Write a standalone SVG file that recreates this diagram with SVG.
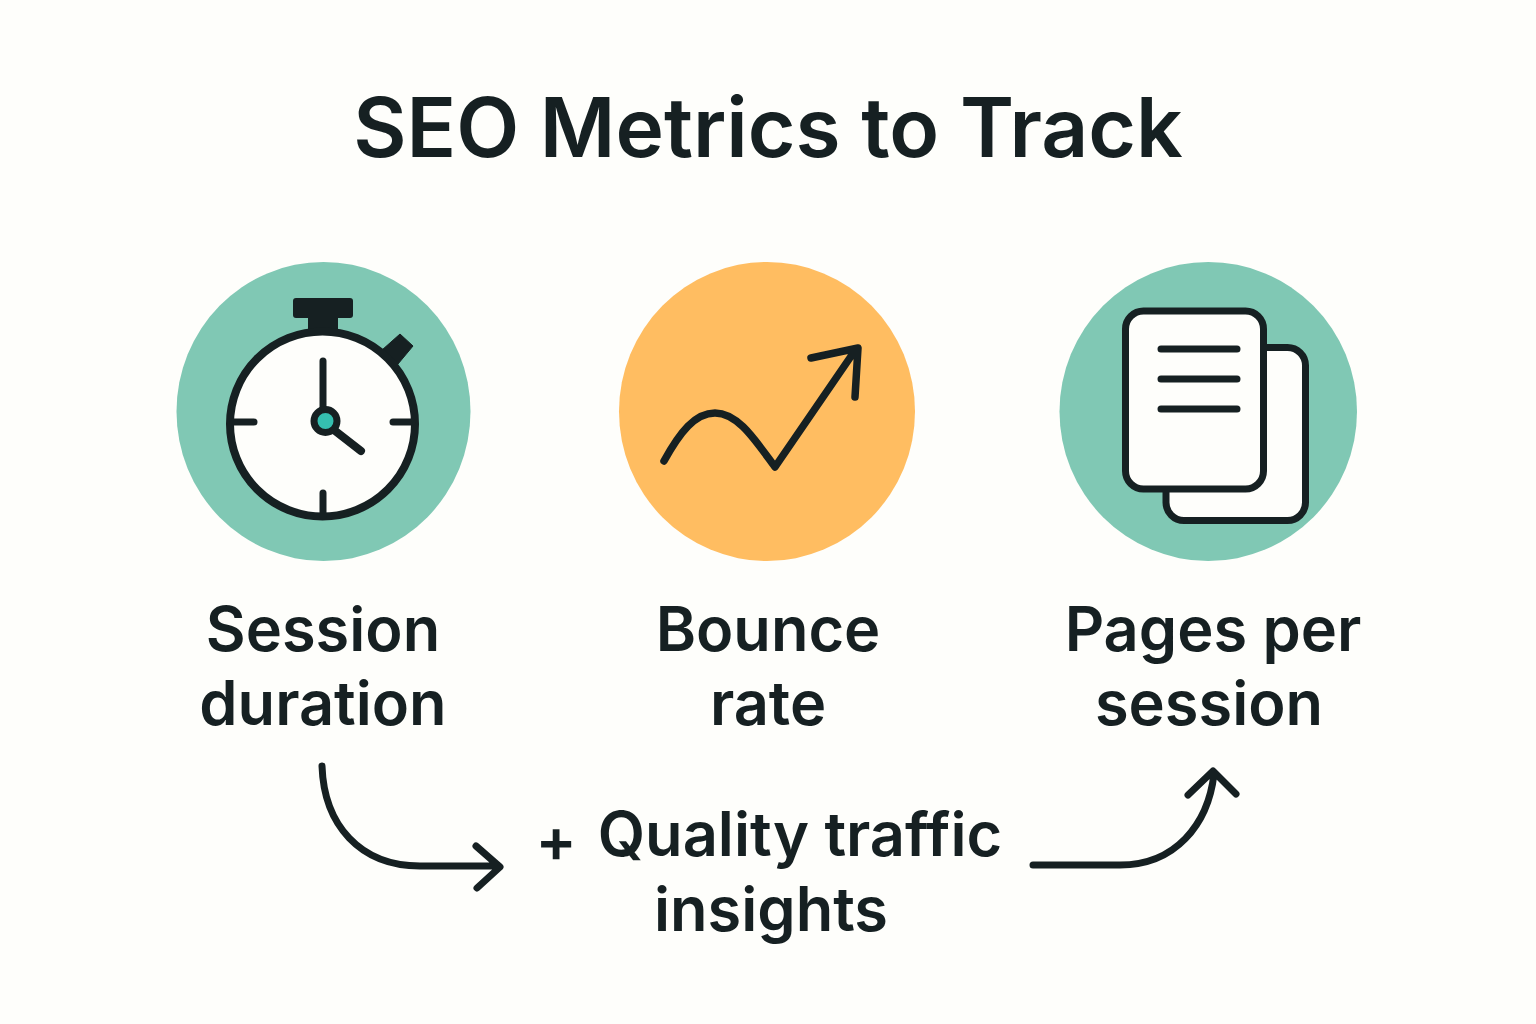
<svg xmlns="http://www.w3.org/2000/svg" width="1536" height="1024" viewBox="0 0 1536 1024">
<style>
text{font-family:Inter,"Liberation Sans",sans-serif;fill:#162022;text-anchor:middle}
.t{font-size:82px;font-weight:600}
.l{font-size:61.300px;font-weight:600}
.s{fill:none;stroke:#162022;stroke-linecap:round;stroke-linejoin:round}
</style>
<rect width="1536" height="1024" fill="#fefefb"/>
<text id="title" class="t" x="768" y="157">SEO Metrics to Track</text>
<g id="session-duration">
<ellipse cx="323.500" cy="411.500" rx="147" ry="149.500" fill="#80c8b4"/>
<rect x="293" y="298" width="60" height="20" rx="3" fill="#162022"/>
<rect x="308" y="316" width="30" height="16" fill="#162022"/>
<path d="M382 350L400 334L413 346L398 364Z" fill="#162022" stroke="#162022" stroke-width="1" stroke-linejoin="round"/>
<circle cx="322.500" cy="424" r="92.500" fill="#fefefb" stroke="#162022" stroke-width="8"/>
<path class="s" stroke-width="7" d="M323 361V408M233 422H254M393 422H412M323 493V516"/>
<path class="s" stroke-width="8" d="M334 430L361 451"/>
<circle cx="325.500" cy="421" r="11.500" fill="#35bfb0" stroke="#162022" stroke-width="7"/>
<text class="l" x="323" y="651">Session</text>
<text class="l" x="323" y="725">duration</text>
</g>
<g id="bounce-rate">
<ellipse cx="767" cy="411.500" rx="148" ry="149.500" fill="#ffbd61"/>
<path class="s" stroke-width="7.500" d="M664 461C680 432 695 413 715 413C738 413 755 440 775 467L856 349M811 358L858 348L855 397"/>
<text class="l" x="768" y="651">Bounce</text>
<text class="l" x="768" y="725">rate</text>
</g>
<g id="pages-per-session">
<ellipse cx="1208.250" cy="411.500" rx="148.750" ry="149.500" fill="#80c8b4"/>
<rect x="1166" y="347.500" width="139.500" height="173" rx="18" fill="#fefefb" stroke="#162022" stroke-width="7"/>
<rect x="1125.500" y="311" width="138" height="178" rx="18" fill="#fefefb" stroke="#162022" stroke-width="7"/>
<path class="s" stroke-width="7" d="M1161 349H1237M1161 379H1237M1161 409H1237"/>
<text class="l" x="1213" y="651">Pages per</text>
<text class="l" x="1209" y="725">session</text>
</g>
<g id="quality-traffic-insights">
<text class="l" x="556" y="862">+</text>
<text class="l" x="800" y="856">Quality traffic</text>
<text class="l" x="771" y="931">insights</text>
</g>
<g id="connectors">
<path class="s" stroke-width="7" d="M322 766C324 825 360 866 420 866H498M476 846L500 867L477 888"/>
<path class="s" stroke-width="7" d="M1033 865H1120C1175 865 1208 825 1214 774M1188 795L1213 771L1236 794"/>
</g>
</svg>
